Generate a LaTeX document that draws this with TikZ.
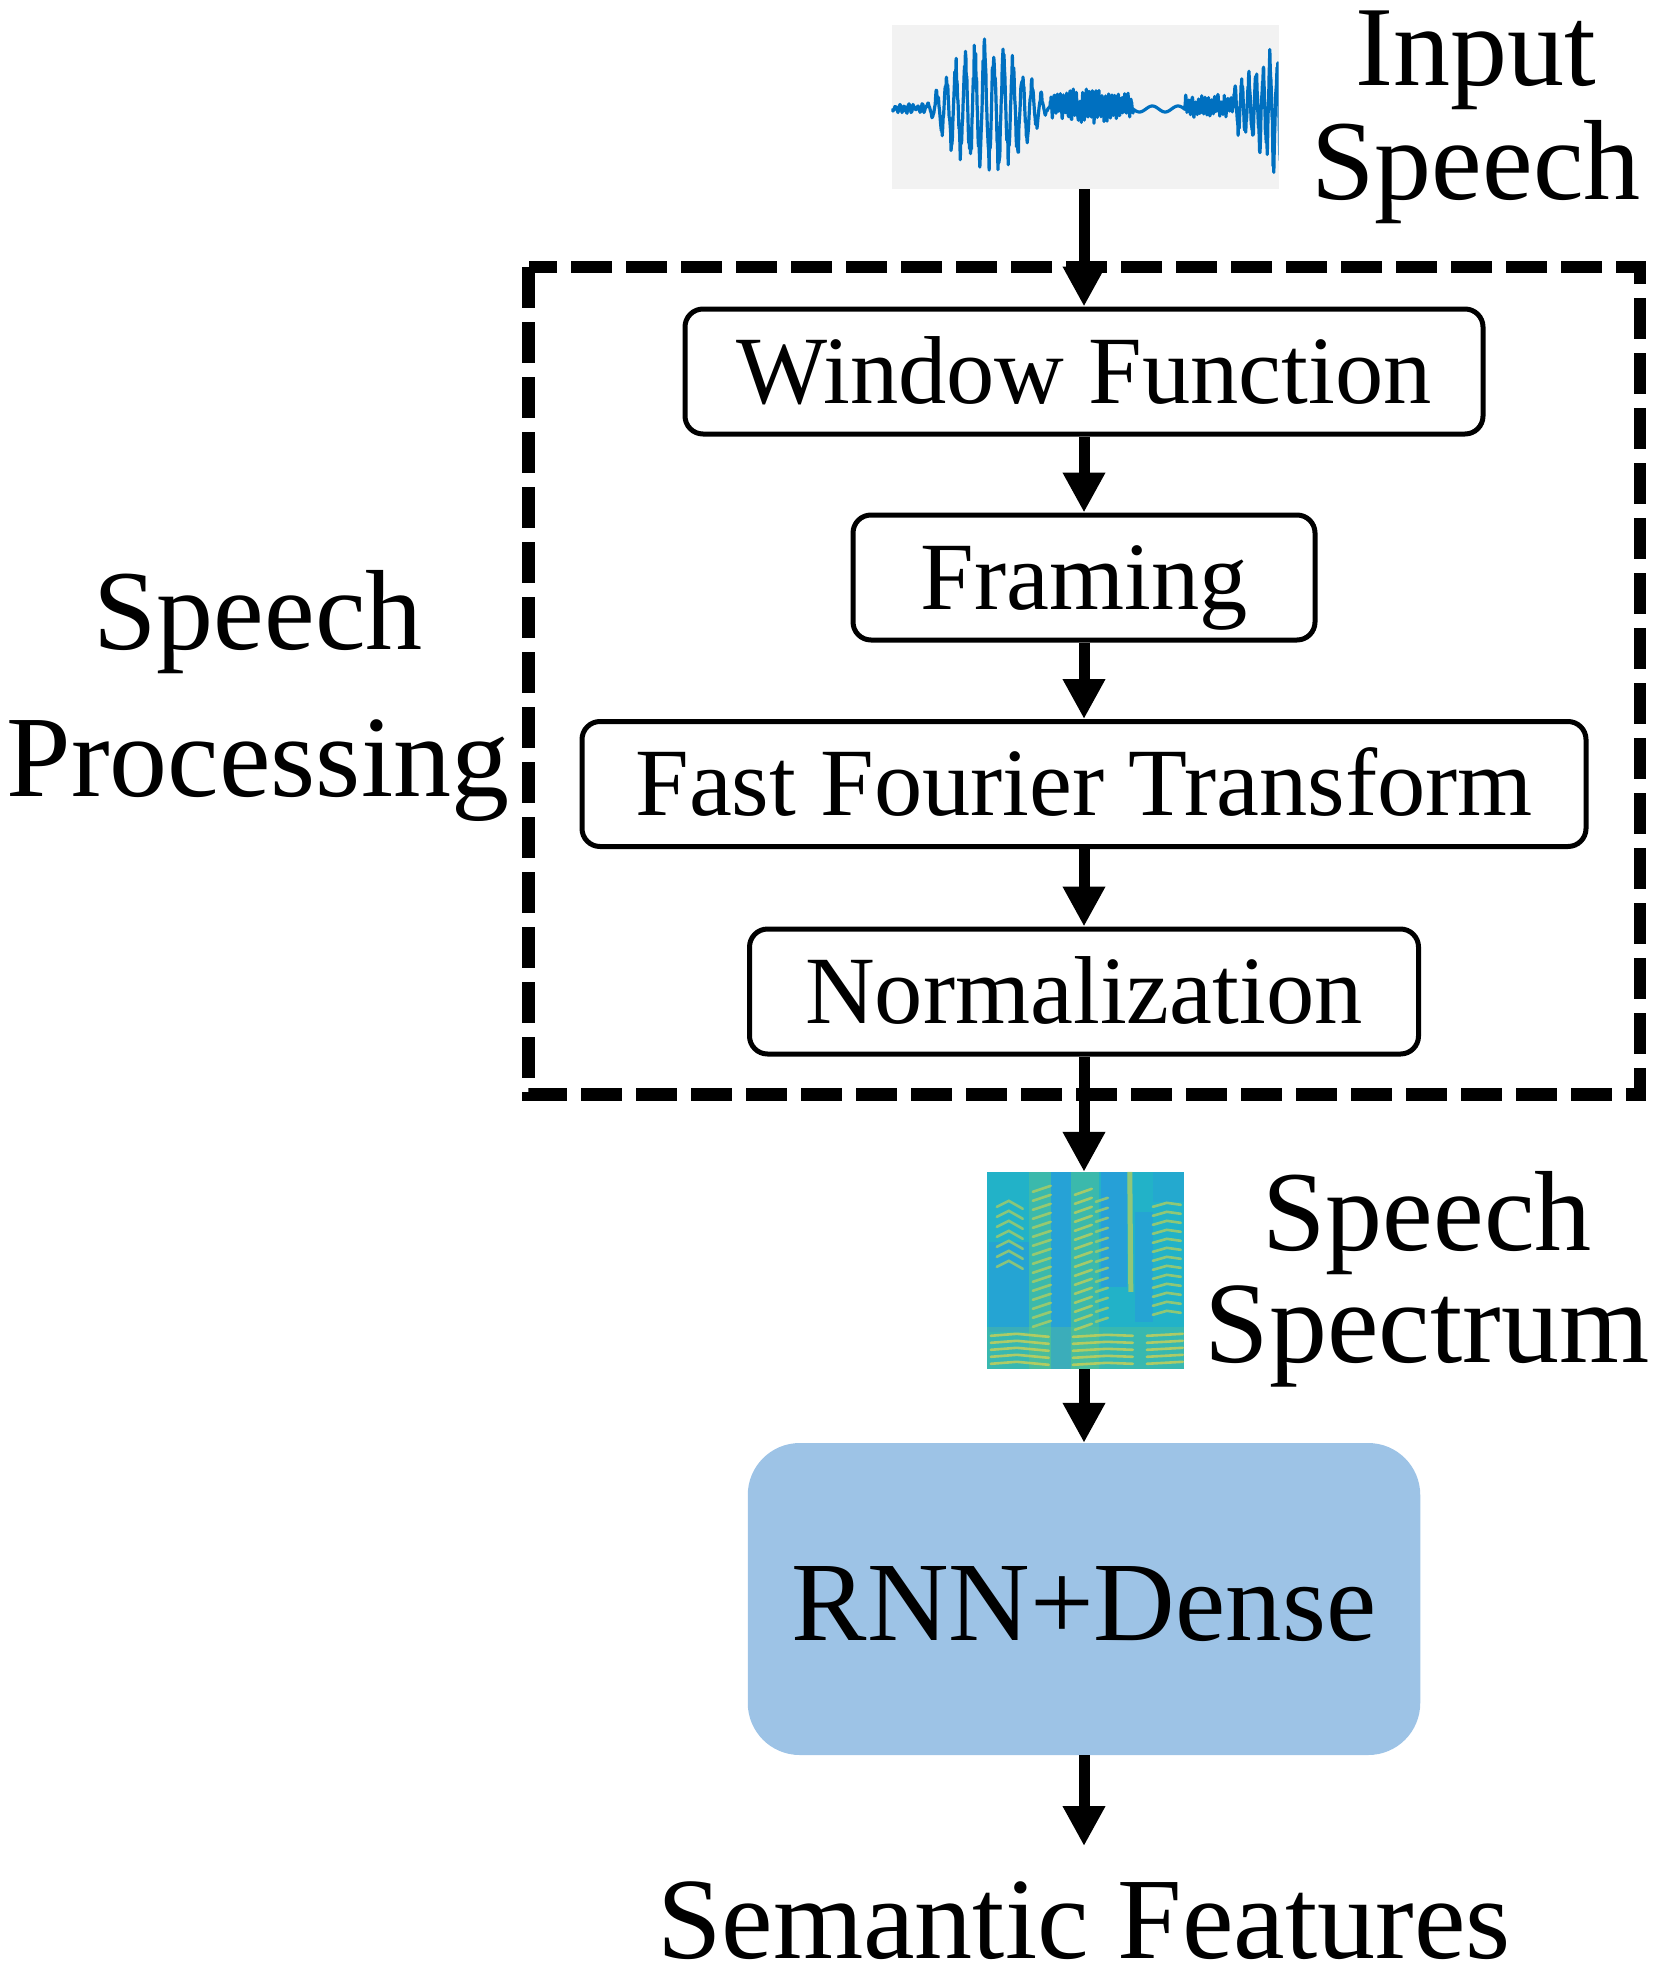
\documentclass[tikz,border=0pt]{standalone}
\usepackage{fontspec}
\setmainfont{Liberation Serif}
\usetikzlibrary{arrows.meta}
\definecolor{wave}{HTML}{0070C0}
\definecolor{wavebg}{HTML}{F2F2F2}
\definecolor{rnnfill}{HTML}{9DC3E6}
\definecolor{specbase}{HTML}{22B2C8}
\definecolor{specblue}{HTML}{2A95E2}
\definecolor{specyel}{HTML}{D6D24E}
\definecolor{specgrn}{HTML}{6CC77A}
\begin{document}
\begin{tikzpicture}[x=1pt,y=-1pt,
  procbox/.style={draw, line width=5pt, rounded corners=18pt, minimum height=125pt,
    inner sep=0pt, text height=63pt, text depth=0pt, font=\fontsize{96.5}{100}\selectfont},
  biglabel/.style={anchor=base, inner sep=0pt, font=\fontsize{114}{120}\selectfont},
  flow/.style={line width=11pt, -{Triangle[length=40pt,width=40pt]}},
  groupbox/.style={line width=12.5pt, dash pattern=on 41pt off 14pt},
  ystripe/.style={line width=2.6pt, line cap=round, opacity=0.75}
]
\useasboundingbox (0,0) rectangle (1661,1980);

% ---- input waveform ----
\node[fill=wavebg, minimum width=387pt, minimum height=164pt, inner sep=0pt] (wave) at (1085,107) {};
\pgfmathsetseed{7}
\begin{scope}
\clip (wave.north west) rectangle (wave.south east);
\draw[wave, line width=3.2pt, line join=round]
  plot[domain=892:925, samples=34] (\x, {108 + 4*sin((\x-892)*80) + 2*rand})
  -- plot[domain=925:1050, samples=270] (\x, {108 - 74*abs(sin((\x-925)*1.44))*sin((\x-925)*37.9)*(0.7+0.3*rand)})
  -- plot[domain=1050:1133, samples=250] (\x, {106 - (12+8*abs(sin((\x-1050)*2.17)))*sin((\x-1050)*112)*(0.55+0.45*rand)})
  -- plot[domain=1133:1185, samples=50] (\x, {109 + 3*sin((\x-1133)*14)})
  -- plot[domain=1185:1233, samples=150] (\x, {106 - 12*sin((\x-1185)*112)*(0.55+0.45*rand)})
  -- plot[domain=1233:1280, samples=130] (\x, {108 - (24+48*(\x-1233)/47)*sin((\x-1233)*51)*(0.7+0.3*rand)});
\end{scope}
\node[biglabel] (in1) at (1476,86) {Input};
\node[biglabel] (in2) at (1476,200) {Speech};

% ---- speech processing group ----
\draw[groupbox] (528.5,267) rectangle (1640,1094.5);
\node[biglabel] (sp1) at (258,649) {Speech};
\node[biglabel, font=\fontsize{116}{120}\selectfont] (sp2) at (258,796) {Processing};

\node[procbox, minimum width=798pt] (wf) at (1084,371.5) {Window Function};
\node[procbox, minimum width=462pt] (fr) at (1084,577.5) {Framing};
\node[procbox, minimum width=1004pt] (fft) at (1084,784) {Fast Fourier Transform};
\node[procbox, minimum width=669pt] (nm) at (1084,991.5) {Normalization};

% ---- spectrogram ----
\node[fill=specbase, minimum width=197pt, minimum height=197pt, inner sep=0pt] (spec) at (1085.5,1270.5) {};
\begin{scope}
\clip (spec.north west) rectangle (spec.south east);
\begin{scope}[shift={(spec.north west)}]
  \fill[specblue, opacity=0.55] (64,0) rectangle (84,197);
  \fill[specblue, opacity=0.6] (114,0) rectangle (140,115);
  \fill[specblue, opacity=0.45] (2,70) rectangle (42,160);
  \fill[specblue, opacity=0.45] (148,40) rectangle (166,150);
  \fill[specblue, opacity=0.3] (166,0) rectangle (197,30);
  \fill[specgrn, opacity=0.35] (42,0) rectangle (64,197);
  \fill[specgrn, opacity=0.35] (84,0) rectangle (112,197);
  \fill[specgrn, opacity=0.3] (0,155) rectangle (197,197);
  % bottom harmonics
  \foreach \yy in {164,171,178,185,192} {
    \draw[ystripe, specyel] (4,\yy) -- (30,\yy-2) -- (62,\yy+1);
    \draw[ystripe, specyel] (86,\yy+1) -- (120,\yy-1) -- (146,\yy);
    \draw[ystripe, specyel] (160,\yy) -- (196,\yy-2);
  }
  % slanted column stripes
  \foreach \yy in {20,29,...,158} {
    \draw[ystripe, specyel!70!specgrn] (46,\yy) -- (64,\yy-6);
    \draw[ystripe, specyel!85!specgrn] (88,\yy+3) -- (105,\yy-3);
  }
  \foreach \yy in {30,40,...,150} {
    \draw[ystripe, specyel!60!specgrn] (109,\yy) -- (121,\yy-4);
  }
  \foreach \yy in {35,44,...,150} {
    \draw[ystripe, specyel!70!specgrn] (166,\yy) -- (180,\yy-4) -- (194,\yy-2);
  }
  \draw[line width=5pt, specyel!80!specgrn, opacity=0.7] (143,0) -- (144,120);
  \foreach \yy in {35,45,...,95} {
    \draw[ystripe, specyel!60!specgrn] (10,\yy) -- (22,\yy-6) -- (36,\yy+2);
  }
\end{scope}
\end{scope}
\node[biglabel] (ss1) at (1427,1250) {Speech};
\node[biglabel, font=\fontsize{116}{120}\selectfont] (ss2) at (1427,1362) {Spectrum};

% ---- RNN ----
\node[fill=rnnfill, rounded corners=52pt, minimum width=672.5pt, minimum height=312pt,
  inner sep=0pt, text height=82pt, text depth=0pt, font=\fontsize{113}{120}\selectfont] (rnn) at (1084,1599) {RNN+Dense};

\coordinate (out) at (1084,1846);
\node[biglabel, font=\fontsize{116}{120}\selectfont] (sf) at (1084,1958) {Semantic Features};

% ---- connectors ----
\draw[flow] (wave.south -| wf.north) -- (wf.north);
\draw[flow] (wf.south) -- (fr.north);
\draw[flow] (fr.south) -- (fft.north);
\draw[flow] (fft.south) -- (nm.north);
\draw[flow] (nm.south) -- (nm.south |- spec.north);
\draw[flow] (spec.south -| rnn.north) -- (rnn.north);
\draw[flow] (rnn.south) -- (out);
\end{tikzpicture}
\end{document}
